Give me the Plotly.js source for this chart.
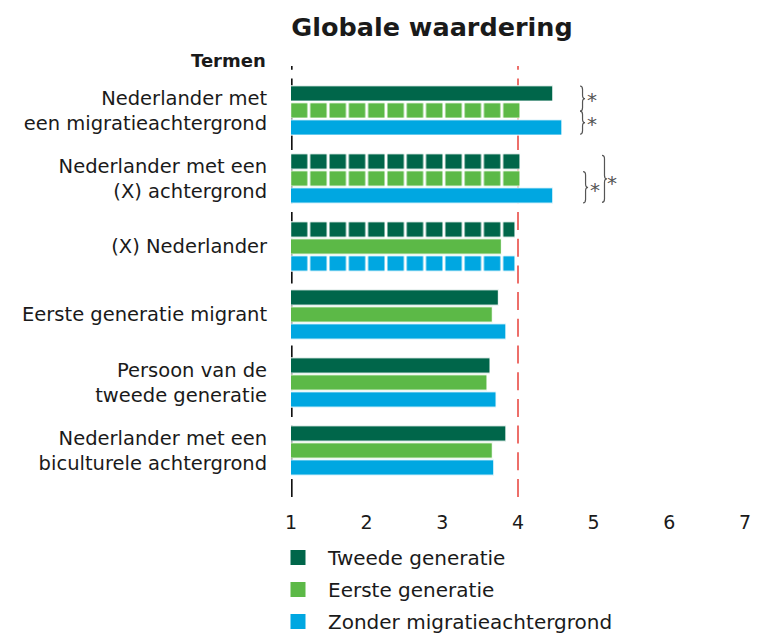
<!DOCTYPE html>
<html>
<head>
<meta charset="utf-8">
<script src="https://cdn.plot.ly/plotly-3.0.1.min.js"></script>
<style>html,body{margin:0;padding:0;background:#fff;}#chart{width:757px;height:634px;}</style>
</head>
<body>
<div id="chart"></div>
<script>
// ---- data ----
const categories = [
  "Nederlander met<br>een migratieachtergrond",
  "Nederlander met een<br>(X) achtergrond",
  "(X) Nederlander",
  "Eerste generatie migrant",
  "Persoon van de<br>tweede generatie",
  "Nederlander met een<br>biculturele achtergrond"
];
const seriesNames = ["Tweede generatie", "Eerste generatie", "Zonder migratieachtergrond"];
const tweede = [4.46, 4.03, 3.96, 3.74, 3.63, 3.84];
const eerste = [4.03, 4.03, 3.78, 3.66, 3.59, 3.66];
const zonder = [4.58, 4.46, 3.96, 3.84, 3.71, 3.68];
// bars drawn with a broken (square) pattern
const tweedeBroken = [false, true, true, false, false, false];
const eersteBroken = [true, true, false, false, false, false];
const zonderBroken = [false, false, true, false, false, false];
const xTicks = [1, 2, 3, 4, 5, 6, 7];
const referenceValue = 4;
const axisStart = 1;

// ---- styling ----
const colors = ["#00664a", "#5cb947", "#00a7e1"];
const FONT = "DejaVu Sans";
const PATTERN_SIZE = 19.3;
const yIdx = categories.map((c, i) => i);

function barTrace(name, vals, broken, color) {
  return {
    type: "bar", orientation: "h", name: name,
    x: vals, y: yIdx, showlegend: false,
    marker: {
      color: color,
      line: {color: "#ffffff", width: 1},
      pattern: {
        shape: broken.map(b => b ? "|" : ""),
        fillmode: "overlay", fgcolor: "#ffffff", fgopacity: 1,
        size: PATTERN_SIZE, solidity: 0.15
      }
    },
    hoverinfo: "x+name"
  };
}
function legendTrace(name, color, i) {
  return {
    type: "scatter", mode: "markers", name: name, x: [null], y: [null],
    legendgroup: "g" + i, showlegend: true,
    marker: {symbol: "square", size: 15, color: color}
  };
}

const data = [
  barTrace(seriesNames[0], tweede, tweedeBroken, colors[0]),
  barTrace(seriesNames[1], eerste, eersteBroken, colors[1]),
  barTrace(seriesNames[2], zonder, zonderBroken, colors[2]),
  legendTrace(seriesNames[0], colors[0], 0),
  legendTrace(seriesNames[1], colors[1], 1),
  legendTrace(seriesNames[2], colors[2], 2)
];

// significance braces
const braces = [
  {cat: 0, y0: -0.36, y1: 0.01, x: 4.82, starX: 4.98, starY: -0.18},
  {cat: 0, y0: 0.01, y1: 0.35, x: 4.82, starX: 4.98, starY: 0.17},
  {cat: 1, y0: -0.10, y1: 0.36, x: 4.86, starX: 5.02, starY: 0.14},
  {cat: 1, y0: -0.34, y1: 0.35, x: 5.11, starX: 5.24, starY: 0.03}
];
function bracePath(x0, ya, yb) {
  const w = 0.066, h = w / 2, r = 0.05, ym = (ya + yb) / 2;
  return `M${x0},${ya} Q${x0+h},${ya} ${x0+h},${ya+r} L${x0+h},${ym-r} Q${x0+h},${ym} ${x0+w},${ym} ` +
         `Q${x0+h},${ym} ${x0+h},${ym+r} L${x0+h},${yb-r} Q${x0+h},${yb} ${x0},${yb}`;
}

const shapes = [
  {type: "line", xref: "x", yref: "paper", x0: axisStart + 0.005, x1: axisStart + 0.005, y0: 0, y1: 1,
   layer: "below", line: {color: "#111111", width: 2.5, dash: "18px,8.7px"}},
  {type: "line", xref: "x", yref: "paper", x0: referenceValue, x1: referenceValue, y0: 0, y1: 1,
   layer: "below", line: {color: "#e8403a", width: 1.5, dash: "18px,8.7px"}}
];
const annotations = [
  {xref: "paper", yref: "paper", x: 0, y: 1, xanchor: "right", yanchor: "middle",
   xshift: -23, yshift: 6, showarrow: false, text: "<b>Termen</b>",
   font: {family: FONT, size: 18, color: "#1a1a1a"}}
];
braces.forEach(b => {
  shapes.push({type: "path", xref: "x", yref: "y", layer: "above",
    path: bracePath(b.x, b.cat + b.y0, b.cat + b.y1),
    line: {color: "#555555", width: 1.2}});
  annotations.push({xref: "x", yref: "y", x: b.starX, y: b.cat + b.starY, showarrow: false,
    text: "*", yshift: -2, font: {family: "DejaVu Sans", size: 20, color: "#555555"}});
});

const layout = {
  width: 757, height: 634,
  margin: {l: 291, r: 12, t: 66, b: 137},
  paper_bgcolor: "#ffffff", plot_bgcolor: "#ffffff",
  font: {family: FONT, color: "#1a1a1a"},
  title: {text: "<b>Globale waardering</b>", x: 432 / 757, xref: "container", xanchor: "center",
          y: 1 - 27 / 634, yref: "container", yanchor: "middle",
          font: {family: FONT, size: 25.5, color: "#1a1a1a"}},
  barmode: "group", bargap: 0.25, bargroupgap: 0.1,
  xaxis: {range: [1, 7], tickvals: xTicks, showgrid: false, zeroline: false, showline: false,
          ticks: "outside", ticklen: 8, tickcolor: "rgba(0,0,0,0)",
          tickfont: {family: FONT, size: 19, color: "#1a1a1a"}, fixedrange: true},
  yaxis: {range: [5.684, -0.654], tickvals: yIdx, ticktext: categories, showgrid: false,
          zeroline: false, showline: false, ticks: "outside", ticklen: 19, tickcolor: "rgba(0,0,0,0)",
          tickfont: {family: FONT, size: 19.5, color: "#1a1a1a"}, fixedrange: true},
  showlegend: true,
  legend: {x: -23 / 454, xref: "paper", y: 1 - 538 / 634, yref: "container", xanchor: "left", yanchor: "top",
           orientation: "v", traceorder: "grouped", tracegroupgap: 3,
           font: {family: FONT, size: 20, color: "#1a1a1a"},
           itemwidth: 50, bgcolor: "rgba(0,0,0,0)"},
  shapes: shapes,
  annotations: annotations
};

Plotly.newPlot("chart", data, layout, {displayModeBar: false, staticPlot: true}).then(gd => {
  // align the broken-bar pattern so that each bar starts with a full square
  const bar = gd.querySelector(".barlayer .point path");
  if (!bar) return;
  const originX = bar.getScreenCTM().e;
  const axisPx = originX + gd._fullLayout.xaxis.l2p(axisStart); // not used if origin already at plot
  const plotLeft = gd._fullLayout._size.l;
  const targetGapCenter = plotLeft - 1.5;           // page x of a white gap center
  let off = (targetGapCenter - originX - PATTERN_SIZE / 2) % PATTERN_SIZE;
  if (off < 0) off += PATTERN_SIZE;
  gd.querySelectorAll("pattern").forEach(p => p.setAttribute("x", off.toFixed(2)));
});
</script>
</body>
</html>
